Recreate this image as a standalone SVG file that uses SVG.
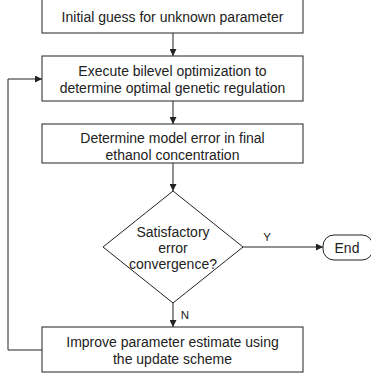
<svg xmlns="http://www.w3.org/2000/svg" width="371" height="379" viewBox="0 0 371 379">
<defs>
<marker id="ah" viewBox="0 0 10 10" refX="10" refY="5" markerWidth="7" markerHeight="7" markerUnits="userSpaceOnUse" orient="auto"><path d="M0,0 L10,5 L0,10 z" fill="#222"/></marker>
<style>
.box{fill:#fff;stroke:#222;stroke-width:1}
.t{font-family:"Liberation Sans",Arial,sans-serif;font-size:14px;fill:#222;text-anchor:middle}
.lbl{font-family:"Liberation Sans",Arial,sans-serif;font-size:11.5px;fill:#222;text-anchor:middle}
.c{fill:none;stroke:#222;stroke-width:1;marker-end:url(#ah)}
</style>
</defs>
<rect width="371" height="379" fill="#fff"/>
<g id="connectors">
<path class="c" d="M173,33 V56"/>
<path class="c" d="M173,101 V124"/>
<path class="c" d="M173,163 V191"/>
<path class="c" d="M243,247 H323"/>
<path class="c" d="M173,303 V327"/>
<path class="c" d="M42,350 H8 V79 H42"/>
<text class="lbl" x="267" y="241">Y</text>
<text class="lbl" x="185" y="319">N</text>
</g>
<g id="n1">
<rect class="box" x="42" y="-2" width="261" height="35"/>
<text class="t" x="172.5" y="22">Initial guess for unknown parameter</text>
</g>
<g id="n2">
<rect class="box" x="42" y="56" width="261" height="45"/>
<text class="t" x="172.5" y="76">Execute bilevel optimization to</text>
<text class="t" x="172.5" y="93">determine optimal genetic regulation</text>
</g>
<g id="n3">
<rect class="box" x="42" y="124" width="261" height="39"/>
<text class="t" x="172.5" y="143">Determine model error in final</text>
<text class="t" x="172.5" y="160">ethanol concentration</text>
</g>
<g id="n4">
<polygon class="box" points="173,191 243,247 173,303 103,247"/>
<text class="t" x="173" y="237">Satisfactory</text>
<text class="t" x="173" y="253">error</text>
<text class="t" x="173" y="269">convergence?</text>
</g>
<g id="n5">
<rect class="box" x="323" y="235" width="50" height="25" rx="11" ry="11"/>
<text class="t" x="347" y="252.5">End</text>
</g>
<g id="n6">
<rect class="box" x="42" y="327" width="261" height="45"/>
<text class="t" x="172.5" y="347">Improve parameter estimate using</text>
<text class="t" x="172.5" y="364">the update scheme</text>
</g>
</svg>
